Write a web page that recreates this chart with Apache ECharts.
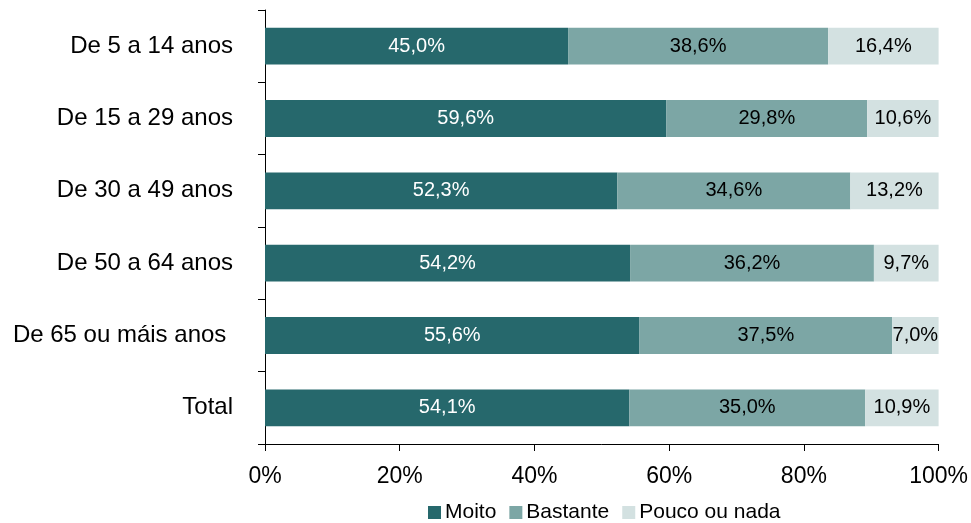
<!DOCTYPE html>
<html>
<head>
<meta charset="utf-8">
<script src="https://cdn.jsdelivr.net/npm/echarts@6/dist/echarts.min.js"></script>
<style>
  html, body { margin: 0; padding: 0; background: #fff; }
  #chart { width: 971px; height: 523px; }
</style>
</head>
<body>
<div id="chart"></div>
<script>
const categories = ["De 5 a 14 anos", "De 15 a 29 anos", "De 30 a 49 anos", "De 50 a 64 anos", "De 65 ou máis anos ", "Total"];
const moito = [45.0, 59.6, 52.3, 54.2, 55.6, 54.1];
const bastante = [38.6, 29.8, 34.6, 36.2, 37.5, 35.0];
const pouco = [16.4, 10.6, 13.2, 9.7, 7.0, 10.9];
const seriesNames = ["Moito", "Bastante", "Pouco ou nada"];

const fmt = p => p.value.toFixed(1).replace(".", ",") + "%";
const font = "Liberation Sans, Arial, sans-serif";

const chart = echarts.init(document.getElementById("chart"));
const makeSeries = (name, data, color, labelColor) => ({
  name: name,
  type: "bar",
  stack: "total",
  data: data,
  barWidth: "51%",
  itemStyle: { color: color },
  label: {
    show: true,
    position: "inside",
    formatter: fmt,
    color: labelColor,
    fontSize: 20,
    fontFamily: font
  }
});

chart.setOption({
  animation: false,
  textStyle: { fontFamily: font },
  grid: { left: 265, right: 32, top: 10, bottom: 79 },
  legend: {
    top: 497,
    left: 423,
    data: seriesNames,
    icon: "rect",
    itemWidth: 13,
    itemHeight: 13,
    itemGap: 13,
    textStyle: { fontSize: 21, color: "#000", fontFamily: font, padding: [0, 0, 0, -1] }
  },
  xAxis: {
    type: "value",
    min: 0,
    max: 100,
    interval: 20,
    axisLine: { show: true, lineStyle: { color: "#000" } },
    axisTick: { show: true, length: 7, lineStyle: { color: "#000" } },
    splitLine: { show: false },
    axisLabel: {
      formatter: "{value}%",
      fontSize: 23,
      color: "#000",
      margin: 21,
      fontFamily: font
    }
  },
  yAxis: {
    type: "category",
    data: categories,
    inverse: true,
    axisLine: { show: true, lineStyle: { color: "#000" } },
    axisTick: { show: true, length: 7, lineStyle: { color: "#000" } },
    axisLabel: { fontSize: 24, color: "#000", margin: 32, fontFamily: font }
  },
  series: [
    makeSeries(seriesNames[0], moito, "#26686c", "#fff"),
    makeSeries(seriesNames[1], bastante, "#7ca6a5", "#000"),
    makeSeries(seriesNames[2], pouco, "#d3e1e1", "#000")
  ]
});
</script>
</body>
</html>
